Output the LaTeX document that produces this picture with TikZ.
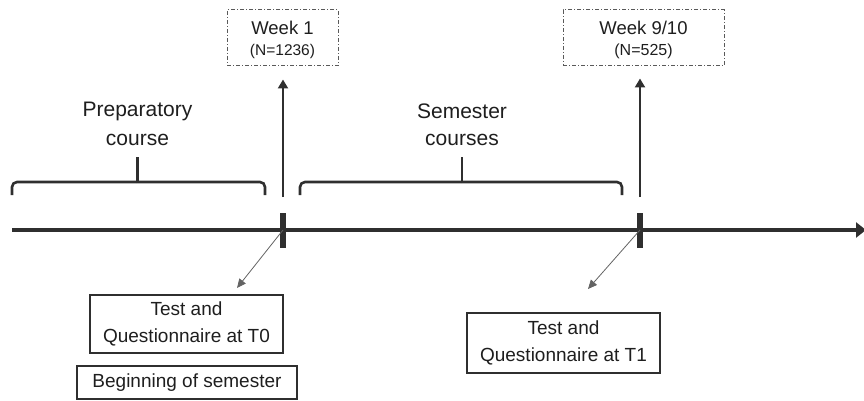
\documentclass[tikz,border=0pt]{standalone}
\usepackage{fontspec}
\setmainfont{Liberation Sans}
\usetikzlibrary{arrows.meta}
\definecolor{ink}{HTML}{2F2F2F}
\definecolor{txt}{HTML}{1E1E1E}
\tikzset{
  timeline/.style={draw=ink, line width=4.5pt, -{Triangle[length=10pt,width=15pt]}},
  tickmark/.style={draw=ink, line width=5.5pt},
  uparrow/.style={draw=ink, line width=2.6pt, -{Triangle[length=9pt,width=10pt]}},
  thinarrow/.style={draw=ink!75, line width=0.8pt, -{Triangle[length=9pt,width=8pt]}},
  bracepath/.style={draw=ink, line width=2.6pt, rounded corners=5pt},
  weekbox/.style={draw=ink!80, line width=1pt, dash pattern=on 4pt off 2pt on 1pt off 2pt, text=txt, align=center, inner sep=0pt},
  solidbox/.style={draw=ink, line width=1.3pt, text=txt, align=center, inner sep=0pt, font=\fontsize{19}{27}\selectfont},
  label/.style={text=txt, align=center, inner sep=0pt, font=\fontsize{21}{28}\selectfont}
}
\begin{document}
\begin{tikzpicture}[x=1pt,y=-1pt]
\useasboundingbox (0,0) rectangle (864,401);
% timeline
\coordinate (start) at (12,230);
\coordinate (end) at (866,230);
\draw[timeline] (start) -- (end);
\coordinate (t0) at (283,230);
\coordinate (t1) at (640,230);
\draw[tickmark] (283,213) -- (283,248);
\draw[tickmark] (640,213) -- (640,248);
% week boxes
\node[weekbox, minimum width=111pt, minimum height=56pt] (w1) at (282.5,38) {};
\node[text=txt, inner sep=0pt, anchor=base, font=\fontsize{18.5}{22}\selectfont] (w1a) at (282.5,35) {Week 1};
\node[text=txt, inner sep=0pt, anchor=base, font=\fontsize{15.5}{19}\selectfont] (w1b) at (282.5,56) {(N=1236)};
\node[weekbox, minimum width=161pt, minimum height=56pt] (w2) at (643.5,38) {};
\node[text=txt, inner sep=0pt, anchor=base, font=\fontsize{18.5}{22}\selectfont] (w2a) at (643.5,35) {Week 9/10};
\node[text=txt, inner sep=0pt, anchor=base, font=\fontsize{16}{19}\selectfont] (w2b) at (643.5,56) {(N=525)};
% up arrows
\draw[uparrow, shorten <=33pt, shorten >=13pt] (t0) -- (t0 |- w1.south);
\draw[uparrow, shorten <=33pt, shorten >=12pt] (t1) -- (t1 |- w2.south);
% braces
\draw[bracepath] (12,195) -- (12,182) -- (265,182) -- (265,195);
\draw[draw=ink, line width=2.6pt] (137.5,183) -- (137.5,157);
\draw[bracepath] (300,195) -- (300,182) -- (622,182) -- (622,195);
\draw[draw=ink, line width=2.6pt] (462,183) -- (462,157);
% brace labels
\node[text=txt, inner sep=0pt, anchor=base, font=\fontsize{21}{28}\selectfont] (p1) at (137.5,117) {Preparatory};
\node[text=txt, inner sep=0pt, anchor=base, font=\fontsize{21}{28}\selectfont] (p2) at (137.5,145) {course};
\node[text=txt, inner sep=0pt, anchor=base, font=\fontsize{21}{28}\selectfont] (s1) at (462,118) {Semester};
\node[text=txt, inner sep=0pt, anchor=base, font=\fontsize{21}{28}\selectfont] (s2) at (462,145) {courses};
% lower boxes
\node[solidbox, minimum width=193pt, minimum height=58pt] (q0) at (186.5,324) {Test and\\Questionnaire at T0};
\node[solidbox, minimum width=220pt, minimum height=33pt] (b0) at (187,382.5) {Beginning of semester};
\node[solidbox, minimum width=193pt, minimum height=60pt] (q1) at (563.5,343) {Test and\\Questionnaire at T1};
% thin arrows
\coordinate (q0tip) at (237,288);
\coordinate (q1tip) at (588,289);
\draw[thinarrow] (t0) -- (q0tip);
\draw[thinarrow] (t1) -- (q1tip);
\end{tikzpicture}
\end{document}
